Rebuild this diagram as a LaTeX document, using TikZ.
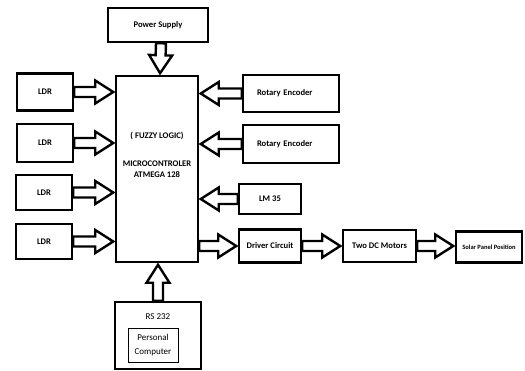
\documentclass[tikz,border=0pt]{standalone}
\usepackage{fontspec}
\setmainfont{Carlito}
\usetikzlibrary{calc}
\newcommand{\lblfont}{\fontsize{8.6}{11}\selectfont\bfseries}
\newcommand{\smlfont}{\fontsize{6.5}{8}\selectfont\bfseries}
\newcommand{\regfont}{\fontsize{9}{14}\selectfont}

\begin{document}
\begin{tikzpicture}
    [
    x=1pt, y=-1pt
    , blk/.style = {draw, line width=2.5pt, inner sep=0pt, font=\lblfont}
    , fat/.style = {draw, line width=2.4pt, line join=miter, to path={
        let \p1=(\tikztostart), \p2=($(\tikztotarget)!1.5pt!(\tikztostart)$), \p3=($(\p2)!18pt!(\p1)$) in
        ($(\p1)!5pt!90:(\p2)$) -- ($(\p3)!5pt!90:(\p2)$) -- ($(\p3)!11.5pt!90:(\p2)$) -- (\p2)
        -- ($(\p3)!11.5pt!-90:(\p2)$) -- ($(\p3)!5pt!-90:(\p2)$) -- ($(\p1)!5pt!-90:(\p2)$) -- cycle}}
    ]
\useasboundingbox (0,0) rectangle (525,371);

\node[blk, minimum width=100pt, minimum height=34pt] (psu) at (158,25) {Power Supply};
\node[blk, minimum width=82pt, minimum height=186pt,
      label={[align=center, font=\lblfont, yshift=14.5pt]center:( FUZZY LOGIC)\\[17pt]MICROCONTROLER\\ATMEGA 128}] (mcu) at (157,169) {};

\node[blk, minimum width=56pt, minimum height=37pt] (ldr1) at (45,92) {LDR};
\node[blk, minimum width=56pt, minimum height=38pt] (ldr2) at (45,143) {LDR};
\node[blk, minimum width=56pt, minimum height=35pt] (ldr3) at (44,192.5) {LDR};
\node[blk, minimum width=56pt, minimum height=35pt] (ldr4) at (44,241.5) {LDR};

\node[blk, minimum width=96pt, minimum height=37pt, text width=68pt, align=left] (enc1) at (291,93.5) {Rotary Encoder};
\node[blk, minimum width=96pt, minimum height=38pt, text width=68pt, align=left] (enc2) at (291,144) {Rotary Encoder};
\node[blk, minimum width=62pt, minimum height=30pt] (lm) at (270,199) {LM 35};
\node[blk, minimum width=62pt, minimum height=33pt] (drv) at (270,246) {Driver Circuit};
\node[blk, minimum width=73pt, minimum height=32pt] (mot) at (379.5,246) {Two DC Motors};
\node[blk, minimum width=66pt, minimum height=31pt, font=\smlfont] (sol) at (489,247) {Solar Panel Position};

\node[blk, minimum width=86pt, minimum height=67pt,
      label={[anchor=north, yshift=-9pt, font=\regfont]north:RS 232}] (rs) at (158,335.5) {};
\node[draw, line width=0.8pt, minimum width=50pt, minimum height=34pt, align=center, font=\regfont] (pc) at (153,345.5) {Personal\\Computer};

\draw[fat] ([xshift=3pt]psu.south) to ([xshift=3pt]mcu.north);
\draw[fat] (rs.north) to (rs.north |- mcu.south);

\draw[fat] (ldr1.east) to (mcu.west |- ldr1.east);
\draw[fat] (ldr2.east) to (mcu.west |- ldr2.east);
\draw[fat] (ldr3.east) to (mcu.west |- ldr3.east);
\draw[fat] (ldr4.east) to (mcu.west |- ldr4.east);

\draw[fat] (enc1.west) to (mcu.east |- enc1.west);
\draw[fat] (enc2.west) to (mcu.east |- enc2.west);
\draw[fat] (lm.west) to (mcu.east |- lm.west);

\draw[fat] (mcu.east |- drv.west) to (drv.west);
\draw[fat] (drv.east) to (mot.west |- drv.east);
\draw[fat] (mot.east) to (sol.west |- mot.east);
\end{tikzpicture}
\end{document}
